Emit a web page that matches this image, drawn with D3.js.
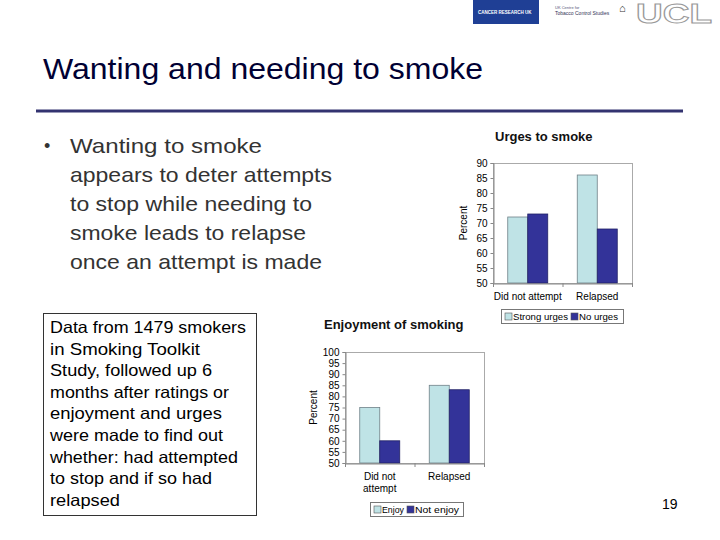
<!DOCTYPE html>
<html><head><meta charset="utf-8">
<script src="https://cdn.jsdelivr.net/npm/d3@7"></script>
<style>body{margin:0;background:#fff;}svg{display:block;font-family:Arial,"Liberation Sans",sans-serif;}</style>
</head><body>
<svg id="c" width="720" height="540"></svg>
<script>
const urgeCategories = ["Did not attempt", "Relapsed"];
const urgeSeries = ["Strong urges", "No urges"];
const strongUrges = [72, 86];
const noUrges = [73, 68];
const urgeTicks = [50, 55, 60, 65, 70, 75, 80, 85, 90];

const enjoyCategories = ["Did not attempt", "Relapsed"];
const enjoySeries = ["Enjoy", "Not enjoy"];
const enjoyValues = [75, 85];
const notEnjoyValues = [60, 83];
const enjoyTicks = [50, 55, 60, 65, 70, 75, 80, 85, 90, 95, 100];

const bulletLines = ["Wanting to smoke", "appears to deter attempts", "to stop while needing to", "smoke leads to relapse", "once an attempt is made"];
const bulletWidths = [192, 262, 242, 236, 252];
const boxLines = ["Data from 1479 smokers", "in Smoking Toolkit", "Study, followed up 6", "months after ratings or", "enjoyment and urges", "were made to find out", "whether: had attempted", "to stop and if so had", "relapsed"];
const boxWidths = [196, 150, 162, 179, 172, 173, 188, 162, 70];

const svg = d3.select("#c");
const colors = ["#BFE3E6", "#333399"];

// Header logos (approximate)
svg.append("rect").attr("x", 473).attr("y", 0).attr("width", 66).attr("height", 24).attr("fill", "#1f3f95");
svg.append("text").attr("x", 478).attr("y", 14).attr("font-size", 4.5).attr("fill", "#fff").attr("font-weight", "bold").text("CANCER RESEARCH UK");
svg.append("text").attr("x", 555).attr("y", 9).attr("font-size", 4).attr("fill", "#557").text("UK Centre for");
svg.append("text").attr("x", 555).attr("y", 15).attr("font-size", 5).attr("fill", "#335").text("Tobacco Control Studies");
svg.append("text").attr("x", 619).attr("y", 12).attr("font-size", 11).attr("fill", "#333").text("⌂");
svg.append("text").attr("x", 636).attr("y", 23).attr("font-size", 27).attr("font-weight", "bold").attr("fill", "none")
  .attr("stroke", "#999").attr("stroke-width", 1).attr("textLength", 76).attr("lengthAdjust", "spacingAndGlyphs").text("UCL");

// Title
svg.append("text").attr("x", 43).attr("y", 79).attr("font-size", 30).attr("fill", "#000033")
  .attr("textLength", 440).attr("lengthAdjust", "spacingAndGlyphs").text("Wanting and needing to smoke");
svg.append("line").attr("x1", 36).attr("x2", 683).attr("y1", 111).attr("y2", 111).attr("stroke", "#333370").attr("stroke-width", 3);

// Bullet
svg.append("text").attr("x", 44).attr("y", 152).attr("font-size", 18).attr("fill", "#333").text("•");
bulletLines.forEach((t, i) => {
  svg.append("text").attr("x", 70).attr("y", 153 + i * 29).attr("font-size", 21).attr("fill", "#333")
    .attr("textLength", bulletWidths[i]).attr("lengthAdjust", "spacingAndGlyphs").text(t);
});

// Box
svg.append("rect").attr("x", 43.5).attr("y", 313.5).attr("width", 213).attr("height", 202).attr("fill", "none").attr("stroke", "#333").attr("stroke-width", 1);
boxLines.forEach((t, i) => {
  svg.append("text").attr("x", 50).attr("y", 333 + i * 21.6).attr("font-size", 16.5).attr("fill", "#000")
    .attr("textLength", boxWidths[i]).attr("lengthAdjust", "spacingAndGlyphs").text(t);
});

svg.append("text").attr("x", 662).attr("y", 509).attr("font-size", 14).attr("fill", "#000").text("19");

function barChart(opt) {
  const g = svg.append("g");
  const x0 = d3.scaleBand().domain(opt.categories).range([opt.left, opt.right]).padding(0);
  const x1 = d3.scaleBand().domain(opt.series).range([0, x0.bandwidth()]).paddingInner(0).paddingOuter(0.7375);
  const y = d3.scaleLinear().domain([opt.ticks[0], opt.ticks[opt.ticks.length - 1]]).range([opt.bottom, opt.top]);
  g.append("rect").attr("x", opt.left + 0.5).attr("y", opt.top + 0.5).attr("width", opt.right - opt.left).attr("height", opt.bottom - opt.top)
    .attr("fill", "none").attr("stroke", "#aaa").attr("stroke-width", 1);
  opt.categories.forEach((c, i) => {
    opt.series.forEach((s, j) => {
      const v = opt.values[j][i];
      g.append("rect").attr("x", x0(c) + x1(s)).attr("y", y(v)).attr("width", x1.bandwidth()).attr("height", y(opt.ticks[0]) - y(v))
        .attr("fill", colors[j]).attr("stroke", j === 0 ? "#6f8088" : "#222266").attr("stroke-width", 0.8);
    });
  });
  const ya = g.append("g").attr("transform", `translate(${opt.left + 0.5},0)`)
    .call(d3.axisLeft(y).tickValues(opt.ticks).tickSize(3).tickPadding(3));
  ya.select(".domain").attr("stroke", "#888");
  ya.selectAll(".tick line").attr("stroke", "#888");
  ya.selectAll("text").attr("font-size", 10).attr("fill", "#000").attr("font-family", "Arial, Liberation Sans, sans-serif");
  const xa = g.append("g").attr("transform", `translate(0,${opt.bottom + 0.5})`)
    .call(d3.axisBottom(x0).tickSize(0).tickFormat(""));
  xa.select(".domain").attr("stroke", "#888");
  const bounds = [opt.left, ...opt.categories.map(c => x0(c) + x0.bandwidth())];
  bounds.forEach(b => g.append("line").attr("x1", b + 0.5).attr("x2", b + 0.5).attr("y1", opt.bottom).attr("y2", opt.bottom + 4).attr("stroke", "#888"));
  opt.categories.forEach((c, i) => {
    opt.catLines[i].forEach((l, k) => {
      g.append("text").attr("x", x0(c) + x0.bandwidth() / 2).attr("y", opt.bottom + 17 + k * 12).attr("text-anchor", "middle")
        .attr("font-size", 10).attr("fill", "#000").text(l);
    });
  });
  g.append("text").attr("transform", `translate(${opt.ylabelX},${(opt.top + opt.bottom) / 2}) rotate(-90)`).attr("text-anchor", "middle")
    .attr("font-size", 10).attr("fill", "#000").text("Percent");
  g.append("text").attr("x", opt.titleX).attr("y", opt.titleY).attr("font-size", 13).attr("font-weight", "bold").attr("fill", "#111").text(opt.title);
  g.append("rect").attr("x", opt.legX + 0.5).attr("y", opt.legY + 0.5).attr("width", opt.legW).attr("height", 14).attr("fill", "#fff").attr("stroke", "#777");
  let lx = opt.legX + 4;
  opt.series.forEach((s, j) => {
    g.append("rect").attr("x", lx).attr("y", opt.legY + 4).attr("width", 7).attr("height", 7).attr("fill", colors[j]).attr("stroke", "#555").attr("stroke-width", 0.6);
    g.append("text").attr("x", lx + 8).attr("y", opt.legY + 11).attr("font-size", 9.5).attr("fill", "#000")
      .attr("textLength", opt.legTextW[j]).attr("lengthAdjust", "spacingAndGlyphs").text(s);
    lx += 8 + opt.legTextW[j] + 3;
  });
}

barChart({
  categories: urgeCategories, series: urgeSeries, values: [strongUrges, noUrges], ticks: urgeTicks,
  left: 493, right: 632, top: 163, bottom: 283,
  catLines: [["Did not attempt"], ["Relapsed"]],
  ylabelX: 467, title: "Urges to smoke", titleX: 495, titleY: 141,
  legX: 501, legY: 309, legW: 122, legTextW: [55, 39]
});

barChart({
  categories: enjoyCategories, series: enjoySeries, values: [enjoyValues, notEnjoyValues], ticks: enjoyTicks,
  left: 345, right: 484, top: 352, bottom: 463,
  catLines: [["Did not", "attempt"], ["Relapsed"]],
  ylabelX: 317, title: "Enjoyment of smoking", titleX: 324, titleY: 329,
  legX: 370, legY: 502, legW: 93, legTextW: [22, 44]
});
</script>
</body></html>
